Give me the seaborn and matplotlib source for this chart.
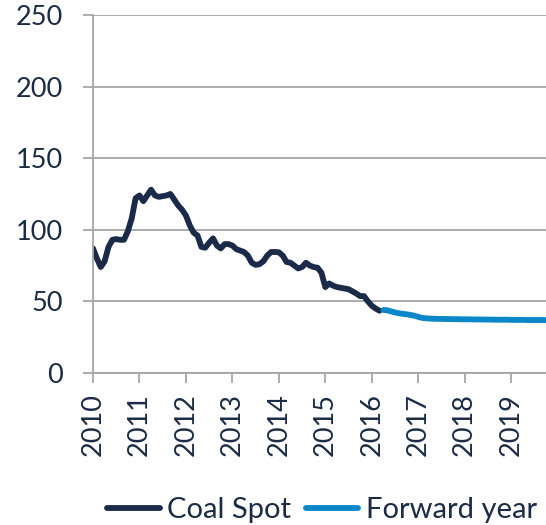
import numpy as np
import pandas as pd
import seaborn as sns
import matplotlib
matplotlib.use("Agg")
import matplotlib.pyplot as plt
from matplotlib.lines import Line2D

# ---- data (monthly) ----
spot_start = 2010.0  # Jan 2010
coal_spot = [87, 80, 74, 78, 88, 93, 93.5, 93, 93, 99, 108, 122,
             124, 120, 124, 128, 124, 123, 123.5, 124, 125, 121, 117, 114,
             110, 103, 98, 96, 88, 87.5, 91, 94, 89, 87, 90, 90,
             89, 86.5, 85.5, 84.5, 82, 77, 75.5, 76, 78, 82, 84.5, 84.5,
             84.3, 82, 77.5, 77, 75, 73, 74, 77, 75, 74, 73.5, 70,
             60, 62.5, 61, 60, 59.5, 59, 58.5, 57, 55.5, 53.7, 53.7, 50,
             47, 45, 43.5]
fwd_start = 2010.0 + 75 / 12  # Apr 2016
forward_year = [44, 43.8, 43, 42.3, 41.7, 41.3, 41, 40.5, 40, 39.2, 38.5, 38.2,
                38, 37.9, 37.8, 37.8, 37.7, 37.7, 37.6, 37.6, 37.5, 37.5, 37.5, 37.4,
                37.4, 37.4, 37.3, 37.3, 37.3, 37.2, 37.2, 37.2, 37.2, 37.1, 37.1, 37.1,
                37.1, 37.0, 37.0, 37.0, 37.0, 37.0, 36.9]
series_names = ["Coal Spot", "Forward year"]
year_ticks = list(range(2010, 2020))
y_ticks = [0, 50, 100, 150, 200, 250]

navy = "#1a2a48"
blue = "#0a87c9"
grid_gray = "#a6a6a6"
text_col = "#1c2b45"

df = pd.concat([
    pd.DataFrame({"t": spot_start + np.arange(len(coal_spot)) / 12,
                  "v": coal_spot, "series": series_names[0]}),
    pd.DataFrame({"t": fwd_start + np.arange(len(forward_year)) / 12,
                  "v": forward_year, "series": series_names[1]}),
])

sns.set_style("white")
plt.rcParams["font.family"] = ["Lato", "DejaVu Sans"]
plt.rcParams["lines.solid_capstyle"] = "round"

fig = plt.figure(figsize=(5.46, 5.25), dpi=100)
ax = fig.add_axes([93 / 546, 1 - 373 / 525, 1 - 93 / 546, (373 - 15) / 525])

sns.lineplot(data=df, x="t", y="v", hue="series",
             palette={series_names[0]: navy, series_names[1]: blue},
             linewidth=4.2, ax=ax, legend=False)

ax.set_xlim(2010, 2019.75)
ax.set_ylim(0, 250)
ax.set_xticks(year_ticks)
ax.set_xticklabels([str(y) for y in year_ticks], rotation=90)
ax.set_yticks(y_ticks)
ax.set_xlabel("")
ax.set_ylabel("")

ax.grid(axis="y", color=grid_gray, linewidth=1.3)
ax.grid(axis="x", visible=False)
ax.set_axisbelow(True)
for s in ["top", "right"]:
    ax.spines[s].set_visible(False)
for s in ["left", "bottom"]:
    ax.spines[s].set_color(grid_gray)
    ax.spines[s].set_linewidth(1.3)

ax.tick_params(axis="y", length=7.5, width=1.3, color=grid_gray, pad=14,
               labelsize=19.5, labelcolor=text_col, left=True, direction="out")
ax.tick_params(axis="x", length=7.5, width=1.3, color=grid_gray, pad=7,
               labelsize=19.5, labelcolor=text_col, bottom=True, direction="out")

handles = [Line2D([0], [0], color=navy, lw=4.2),
           Line2D([0], [0], color=blue, lw=4.2)]
fig.legend(handles, series_names, loc="center", bbox_to_anchor=(0.59, 0.028),
           ncol=2, frameon=False, fontsize=21, labelcolor=text_col,
           handlelength=1.8, handletextpad=0.25, columnspacing=0.5,
           borderaxespad=0, borderpad=0)

fig.savefig("out.png", dpi=100)
